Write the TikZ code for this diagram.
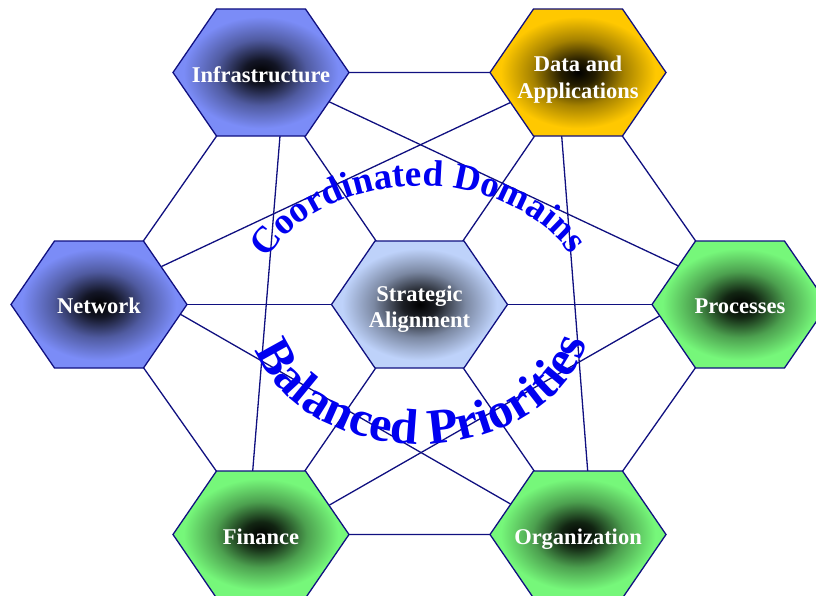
\documentclass[tikz,border=0pt]{standalone}
\usepackage{fontspec}
\setmainfont{Liberation Serif}
\usepackage{tikz}
\usetikzlibrary{decorations.text}

\definecolor{edgenavy}{RGB}{16,16,128}
\definecolor{cellblue}{RGB}{123,140,247}
\definecolor{cellgold}{RGB}{255,200,0}
\definecolor{cellgreen}{RGB}{118,247,122}
\definecolor{celllight}{RGB}{190,210,250}
\definecolor{curveblue}{RGB}{0,0,240}
\colorlet{cellouter}{cellblue}

\newcommand\cellfont{\fontsize{22.5}{26.5}\selectfont\bfseries}
\newcommand\topfont{\fontsize{37}{42}\selectfont\bfseries\color{curveblue}}
\newcommand\lowfont{\fontsize{50}{56}\selectfont\bfseries\color{curveblue}}

\pgfdeclareradialshading[cellouter]{cellglow}{\pgfpointorigin}{color(0bp)=(black); color(5bp)=(cellouter!15!black); color(13bp)=(cellouter!65!black); color(22bp)=(cellouter); color(50bp)=(cellouter)}

\pgfdeclarelayer{edges}
\pgfdeclarelayer{cells}
\pgfsetlayers{edges,cells,main}

\tikzset{
  cell/.style={/utils/exec={\colorlet{cellouter}{#1}}, shade, shading=cellglow,
    draw=edgenavy, line width=1.3pt},
  cellspot/.style={inner sep=0pt, minimum size=0pt},
  celltext/.style={text=white, font=\cellfont, align=center, inner sep=0pt},
  link/.style={draw=edgenavy, line width=1.3pt}
}

\begin{document}
\begin{tikzpicture}[x=1pt,y=1pt]
\useasboundingbox (-419.5,-290.5) rectangle (396.5,304.5);

% cell centres with their labels
\node[cellspot, label={[celltext, yshift=-4.5]center:{Strategic\\Alignment}}] (align) at (0,0) {};
\node[cellspot, label={[celltext, yshift=-2.5]center:Infrastructure}] (infra) at (-158.5,232) {};
\node[cellspot, label={[celltext, yshift=-7]center:{Data and\\Applications}}] (data) at (158.5,232) {};
\node[cellspot, label={[celltext, yshift=-1]center:Network}] (net) at (-320.5,0) {};
\node[cellspot, label={[celltext, yshift=-2]center:Processes}] (proc) at (320.5,0) {};
\node[cellspot, label={[celltext, yshift=-2.5]center:Finance}] (fin) at (-158.5,-230) {};
\node[cellspot, label={[celltext, yshift=-5]center:Organization}] (org) at (158.5,-230) {};

% hexagons
\begin{pgfonlayer}{cells}
\path[cell=celllight] (align.center) ++(-88,0) -- ++(43.5,63.5) -- ++(89,0) -- ++(43.5,-63.5) -- ++(-43.5,-63.5) -- ++(-89,0) -- cycle;
\path[cell=cellblue] (infra.center) ++(-88,0) -- ++(43.5,63.5) -- ++(89,0) -- ++(43.5,-63.5) -- ++(-43.5,-63.5) -- ++(-89,0) -- cycle;
\path[cell=cellgold] (data.center) ++(-88,0) -- ++(43.5,63.5) -- ++(89,0) -- ++(43.5,-63.5) -- ++(-43.5,-63.5) -- ++(-89,0) -- cycle;
\path[cell=cellblue] (net.center) ++(-88,0) -- ++(43.5,63.5) -- ++(89,0) -- ++(43.5,-63.5) -- ++(-43.5,-63.5) -- ++(-89,0) -- cycle;
\path[cell=cellgreen] (proc.center) ++(-88,0) -- ++(43.5,63.5) -- ++(89,0) -- ++(43.5,-63.5) -- ++(-43.5,-63.5) -- ++(-89,0) -- cycle;
\path[cell=cellgreen] (fin.center) ++(-88,0) -- ++(43.5,63.5) -- ++(89,0) -- ++(43.5,-63.5) -- ++(-43.5,-63.5) -- ++(-89,0) -- cycle;
\path[cell=cellgreen] (org.center) ++(-88,0) -- ++(43.5,63.5) -- ++(89,0) -- ++(43.5,-63.5) -- ++(-43.5,-63.5) -- ++(-89,0) -- cycle;
\end{pgfonlayer}

% connectors
\begin{pgfonlayer}{edges}
\draw[link] (infra.center) -- (data.center) -- (proc.center) -- (org.center) -- (fin.center) -- (net.center) -- (infra.center);
\draw[link] (align.center) -- (infra.center);
\draw[link] (align.center) -- (data.center);
\draw[link] (align.center) -- (net.center);
\draw[link] (align.center) -- (proc.center);
\draw[link] (align.center) -- (fin.center);
\draw[link] (align.center) -- (org.center);
\draw[link] ([shift={(19,-63.5)}]infra.center) -- ([shift={(-8.3,63.5)}]fin.center);
\draw[link] ([shift={(-16.3,-63.5)}]data.center) -- ([shift={(9.7,63.5)}]org.center);
\draw[link] ([shift={(68,-29.2)}]infra.center) -- ([shift={(-61.5,38.5)}]proc.center);
\draw[link] ([shift={(-68,-30.2)}]data.center) -- ([shift={(62.5,38)}]net.center);
\draw[link] ([shift={(81,-9.5)}]net.center) -- ([shift={(-67.5,30.5)}]org.center);
\draw[link] ([shift={(68.5,29.5)}]fin.center) -- ([shift={(-80.5,-11.5)}]proc.center);
\end{pgfonlayer}

% curved captions
\path[decorate, decoration={text along path, text align=center,
    text={|\topfont|Coordinated Domains}}]
  (0.5,-9) ++(154:170 and 127.5) arc[start angle=154, end angle=28, x radius=170, y radius=127.5];
\path[decorate, decoration={text along path, text align=center,
    text={|\lowfont|Balanced Priorities}}]
  (0.5,-12) ++(195:170 and 127.5) arc[start angle=195, end angle=349, x radius=170, y radius=127.5];
\end{tikzpicture}
\end{document}
